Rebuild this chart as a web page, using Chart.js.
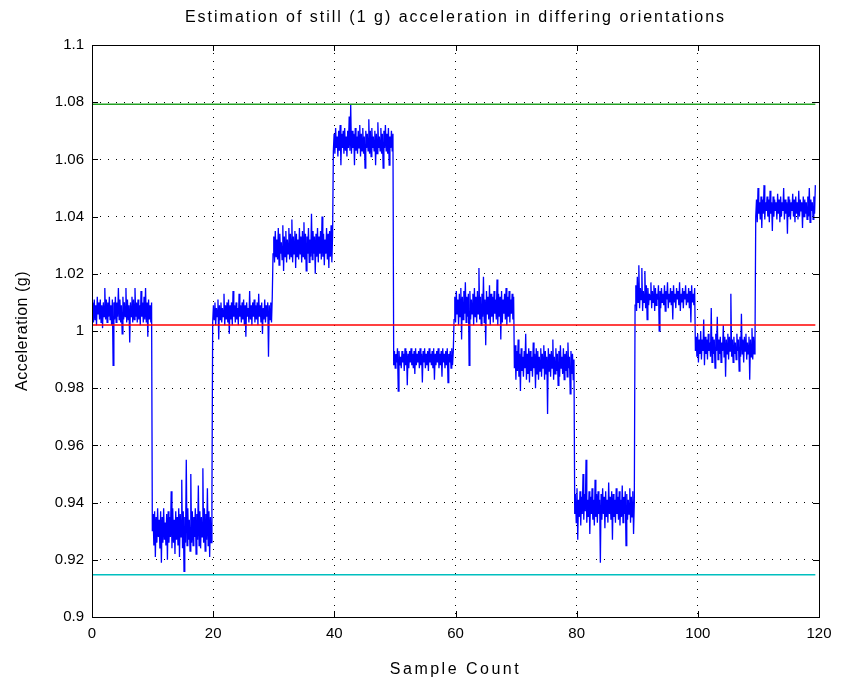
<!DOCTYPE html>
<html><head><meta charset="utf-8">
<script src="https://cdn.jsdelivr.net/npm/chart.js@4/dist/chart.umd.min.js"></script>
<style>html,body{margin:0;padding:0;background:#fff}#wrap{width:841px;height:689px}</style>
</head><body><div id="wrap"><canvas id="c" width="841" height="689"></canvas></div>
<script>
const sampleStep = 0.1245;
const xTickValues = [0, 20, 40, 60, 80, 100, 120];
const yTickValues = [0.9, 0.92, 0.94, 0.96, 0.98, 1, 1.02, 1.04, 1.06, 1.08, 1.1];
const yTickLabels = ['0.9','0.92','0.94','0.96','0.98','1','1.02','1.04','1.06','1.08','1.1'];
const upperBound = 1.0793;
const meanLevel = 1.0021;
const lowerBound = 0.9148;

const seg1 = [1.005,1.010,1.003,1.011,1.004,1.009,1.002,1.012,1.006,1.010,1.004,1.011,1.003,1.009,1.001,1.010,1.005,1.015,1.004,1.011,1.003,1.010,1.005,1.012,1.004,1.009,1.002,1.011,0.988,1.010,1.004,1.012,1.003,1.010,1.005,1.015,1.004,1.011,1.003,1.009,0.999,1.012,1.004,1.010,1.005,1.015,1.003,1.011,1.004,1.009,0.996,1.010,1.005,1.012,1.003,1.011,1.004,1.015,1.005,1.010,1.003,1.011,1.004,1.009,1.002,1.014,1.005,1.010,1.003,1.012,1.004,1.015,1.003,1.010,0.998,1.011,1.004,1.009,1.003,1.010];
const seg2 = [0.930,0.936,0.925,0.937,0.921,0.935,0.926,0.938,0.928,0.934,0.924,0.937,0.919,0.935,0.926,0.938,0.927,0.933,0.925,0.936,0.920,0.937,0.926,0.935,0.928,0.944,0.924,0.938,0.926,0.934,0.922,0.937,0.927,0.935,0.925,0.938,0.921,0.936,0.928,0.948,0.924,0.937,0.916,0.935,0.926,0.955,0.925,0.938,0.927,0.934,0.923,0.950,0.926,0.937,0.925,0.935,0.928,0.938,0.922,0.936,0.927,0.946,0.925,0.937,0.924,0.935,0.928,0.952,0.926,0.938,0.923,0.936,0.927,0.945,0.925,0.937,0.921,0.935,0.926,0.941];
const seg3 = [1.003,1.009,1.004,1.010,1.002,1.008,1.005,1.011,0.997,1.009,1.004,1.010,1.003,1.008,1.005,1.013,1.002,1.009,1.004,1.010,1.003,1.011,0.999,1.009,1.004,1.010,1.002,1.014,1.005,1.009,1.003,1.010,1.004,1.008,1.002,1.013,1.005,1.009,1.003,1.010,1.004,1.011,1.002,1.009,0.998,1.010,1.005,1.008,1.003,1.014,1.004,1.009,1.002,1.010,1.005,1.011,1.003,1.009,1.004,1.010,1.002,1.013,1.005,1.009,1.003,1.010,0.999,1.008,1.004,1.011,1.003,1.009,1.005,1.010,0.991,1.009,1.004,1.010,1.003,1.012];
const seg4 = [1.027,1.033,1.024,1.035,1.026,1.032,1.025,1.036,1.023,1.034,1.027,1.031,1.025,1.037,1.021,1.033,1.026,1.035,1.024,1.032,1.027,1.036,1.025,1.034,1.026,1.039,1.024,1.033,1.027,1.035,1.022,1.034,1.026,1.032,1.025,1.036,1.027,1.033,1.024,1.035,1.026,1.038,1.025,1.034,1.021,1.033,1.027,1.036,1.024,1.032,1.026,1.041,1.025,1.035,1.027,1.033,1.020,1.034,1.026,1.036,1.024,1.033,1.027,1.035,1.025,1.040,1.026,1.034,1.023,1.032,1.027,1.036,1.025,1.034,1.022,1.035,1.026,1.037,1.024,1.034];
const seg5 = [1.063,1.069,1.062,1.071,1.064,1.068,1.061,1.070,1.063,1.072,1.058,1.069,1.064,1.070,1.062,1.071,1.063,1.068,1.061,1.070,1.064,1.075,1.063,1.079,1.062,1.070,1.064,1.069,1.058,1.071,1.063,1.068,1.062,1.070,1.064,1.072,1.061,1.069,1.063,1.071,1.062,1.068,1.057,1.070,1.064,1.069,1.063,1.074,1.062,1.070,1.061,1.071,1.064,1.068,1.063,1.070,1.058,1.069,1.062,1.073,1.064,1.068,1.063,1.071,1.062,1.069,1.057,1.070,1.064,1.072,1.063,1.069,1.062,1.071,1.058,1.068,1.064,1.070,1.063,1.069];
const seg6 = [0.988,0.993,0.987,0.992,0.989,0.994,0.979,0.993,0.988,0.991,0.987,0.993,0.989,0.992,0.986,0.994,0.988,0.993,0.981,0.992,0.987,0.993,0.989,0.994,0.988,0.992,0.987,0.993,0.985,0.994,0.988,0.992,0.989,0.993,0.987,0.994,0.988,0.992,0.982,0.993,0.989,0.994,0.987,0.992,0.988,0.993,0.986,0.994,0.989,0.992,0.988,0.993,0.987,0.994,0.983,0.992,0.988,0.993,0.989,0.994,0.987,0.992,0.988,0.993,0.984,0.994,0.989,0.992,0.987,0.993,0.988,0.994,0.982,0.992,0.989,0.993,0.987,0.994,0.988,0.993];
const seg7 = [1.004,1.012,1.003,1.014,1.006,1.011,1.002,1.013,1.005,1.015,0.997,1.012,1.004,1.014,1.006,1.017,1.003,1.012,1.005,1.013,0.988,1.014,1.004,1.011,1.006,1.013,1.002,1.015,1.005,1.012,1.003,1.014,1.006,1.022,1.004,1.012,1.002,1.013,1.005,1.019,1.003,1.011,0.995,1.014,1.006,1.012,1.004,1.016,1.002,1.013,1.005,1.012,1.003,1.014,1.006,1.011,1.004,1.018,1.002,1.013,1.005,1.012,0.997,1.014,1.003,1.011,1.006,1.013,1.004,1.015,1.002,1.012,1.005,1.014,1.003,1.011,1.006,1.013,1.004,1.012];
const seg8 = [0.987,0.995,0.983,0.993,0.986,0.997,0.984,0.992,0.979,0.994,0.986,0.991,0.984,0.993,0.987,0.999,0.983,0.992,0.985,0.994,0.982,0.993,0.986,0.991,0.984,0.996,0.987,0.992,0.980,0.994,0.985,0.993,0.983,0.991,0.986,0.994,0.984,0.992,0.987,0.995,0.983,0.993,0.985,0.991,0.971,0.994,0.986,0.992,0.984,0.993,0.987,0.997,0.983,0.991,0.985,0.994,0.986,0.992,0.981,0.993,0.984,0.995,0.987,0.991,0.985,0.994,0.983,0.992,0.986,0.993,0.984,0.996,0.987,0.991,0.978,0.993,0.985,0.992,0.983,0.990];
const seg9 = [0.936,0.943,0.933,0.945,0.927,0.941,0.935,0.944,0.932,0.942,0.936,0.950,0.934,0.943,0.937,0.955,0.933,0.941,0.935,0.944,0.929,0.942,0.936,0.945,0.934,0.941,0.932,0.948,0.935,0.943,0.933,0.944,0.936,0.941,0.919,0.943,0.934,0.945,0.936,0.942,0.931,0.944,0.935,0.941,0.933,0.947,0.936,0.942,0.934,0.944,0.927,0.943,0.935,0.941,0.933,0.945,0.936,0.942,0.934,0.944,0.932,0.941,0.935,0.946,0.933,0.942,0.936,0.944,0.925,0.943,0.934,0.941,0.936,0.945,0.933,0.942,0.935,0.944,0.929,0.940];
const seg10 = [1.009,1.016,1.007,1.019,1.010,1.023,1.008,1.015,1.011,1.022,1.007,1.014,1.010,1.021,1.008,1.016,1.004,1.015,1.009,1.013,1.011,1.017,1.008,1.014,1.010,1.016,1.007,1.015,1.009,1.013,1.011,1.016,1.000,1.014,1.008,1.015,1.010,1.013,1.009,1.016,1.007,1.014,1.011,1.017,1.008,1.013,1.010,1.015,1.009,1.014,1.004,1.016,1.010,1.013,1.008,1.015,1.011,1.014,1.009,1.017,1.007,1.013,1.010,1.015,1.008,1.014,1.011,1.016,1.009,1.013,1.010,1.015,1.008,1.014,1.003,1.016,1.010,1.013,1.009,1.015];
const seg11 = [0.993,0.998,0.991,0.999,0.989,0.997,0.992,1.000,0.990,0.997,0.993,1.004,0.988,0.998,0.992,0.997,0.990,0.999,0.993,0.996,0.991,1.008,0.989,0.998,0.992,0.997,0.987,0.999,0.993,1.005,0.990,0.997,0.992,0.998,0.989,0.996,0.993,1.002,0.991,0.998,0.984,0.997,0.992,0.999,0.990,0.998,0.993,1.013,0.991,0.997,0.989,0.998,0.992,0.996,0.990,0.999,0.993,0.997,0.986,0.998,0.991,1.006,0.992,0.997,0.989,0.998,0.993,0.999,0.990,0.996,0.992,0.998,0.983,0.997,0.991,1.001,0.990,0.998,0.992,0.996];
const seg12 = [1.040,1.046,1.038,1.050,1.041,1.045,1.039,1.047,1.036,1.046,1.041,1.051,1.039,1.045,1.042,1.047,1.040,1.046,1.038,1.049,1.041,1.045,1.035,1.047,1.040,1.046,1.042,1.045,1.039,1.048,1.041,1.046,1.038,1.047,1.040,1.045,1.042,1.050,1.039,1.046,1.041,1.045,1.034,1.047,1.040,1.046,1.039,1.045,1.042,1.048,1.040,1.046,1.038,1.047,1.041,1.045,1.039,1.049,1.040,1.046,1.042,1.045,1.036,1.047,1.040,1.046,1.041,1.045,1.039,1.047,1.040,1.050,1.038,1.046,1.042,1.045,1.039,1.047,1.041,1.051];

const accel = [...seg1,...seg2,...seg3,...seg4,...seg5,...seg6,...seg7,...seg8,...seg9,...seg10,...seg11,...seg12];
const accelPoints = accel.map((v, i) => ({x: i * sampleStep, y: v}));
const lastX = (accel.length - 1) * sampleStep;
const hLine = v => [{x: 0, y: v}, {x: lastX, y: v}];

const FONT = 'Liberation Sans, Arial, Helvetica, sans-serif';

const framePlugin = {
  id: 'frame',
  afterDatasetsDraw(chart) {
    const {ctx, chartArea: a, scales: {x, y}} = chart;
    ctx.save();
    ctx.strokeStyle = '#000';
    ctx.lineWidth = 1;
    ctx.strokeRect(Math.round(a.left) + 0.5, Math.round(a.top) + 0.5, Math.round(a.right - a.left), Math.round(a.bottom - a.top));
    ctx.beginPath();
    const tl = 6;
    xTickValues.forEach(v => {
      const px = Math.round(x.getPixelForValue(v)) + 0.5;
      ctx.moveTo(px, a.bottom); ctx.lineTo(px, a.bottom - tl);
      ctx.moveTo(px, a.top); ctx.lineTo(px, a.top + tl);
    });
    yTickValues.forEach(v => {
      const py = Math.round(y.getPixelForValue(v)) + 0.5;
      ctx.moveTo(a.left, py); ctx.lineTo(a.left + tl, py);
      ctx.moveTo(a.right, py); ctx.lineTo(a.right - tl, py);
    });
    ctx.stroke();
    ctx.restore();
  }
};

const chart = new Chart(document.getElementById('c'), {
  type: 'line',
  data: {
    datasets: [
      {label: 'mean', data: hLine(meanLevel), borderColor: '#ff0000', borderWidth: 1.5},
      {label: 'upper', data: hLine(upperBound), borderColor: '#22a022', borderWidth: 1.5},
      {label: 'lower', data: hLine(lowerBound), borderColor: '#00bfbf', borderWidth: 1.5},
      {label: 'acceleration', data: accelPoints, borderColor: '#0000ff', borderWidth: 1.3}
    ]
  },
  options: {
    responsive: false,
    animation: false,
    elements: {point: {radius: 0}, line: {tension: 0}},
    layout: {padding: {left: 0, right: 22, top: 0, bottom: 0}},
    plugins: {
      legend: {display: false},
      tooltip: {enabled: false},
      title: {
        display: true,
        text: 'Estimation of still (1 g) acceleration in differing orientations',
        color: '#000',
        font: {family: FONT, size: 16, weight: 'normal', lineHeight: 1.2},
        padding: {top: 8, bottom: 17.8}
      }
    },
    scales: {
      x: {
        type: 'linear', min: 0, max: 120,
        afterBuildTicks: s => { s.ticks = xTickValues.map(v => ({value: v})); },
        afterFit: s => { s.height = 72; },
        grid: {color: '#000', lineWidth: 1, drawTicks: false},
        border: {display: false, dash: [1, 7]},
        ticks: {color: '#000', padding: 8, font: {family: FONT, size: 15}, maxRotation: 0, callback: v => String(v)},
        title: {display: true, text: 'Sample Count', color: '#000', font: {family: FONT, size: 16}, padding: {top: 10, bottom: 10}}
      },
      y: {
        type: 'linear', min: 0.9, max: 1.1,
        afterBuildTicks: s => { s.ticks = yTickValues.map(v => ({value: v})); },
        afterFit: s => { s.width = 92; },
        grid: {color: '#000', lineWidth: 1, drawTicks: false},
        border: {display: false, dash: [1, 7]},
        ticks: {color: '#000', padding: 8, font: {family: FONT, size: 15},
          callback: (v) => { const i = yTickValues.findIndex(t => Math.abs(t - v) < 1e-9); return i >= 0 ? yTickLabels[i] : ''; }},
        title: {display: true, text: 'Acceleration (g)', color: '#000', font: {family: FONT, size: 16}, padding: {top: 13, bottom: 13}}
      }
    }
  },
  plugins: [framePlugin]
});

function spaced(obj, method, spacing, dx) {
  if (!obj || typeof obj[method] !== 'function') return;
  const orig = obj[method].bind(obj);
  obj[method] = function (...args) {
    const ctx = chart.ctx;
    ctx.save();
    ctx.letterSpacing = spacing;
    if (dx) ctx.translate(dx, 0);
    orig(...args);
    ctx.restore();
  };
}
// centre the title over the axes box as in the original figure
const titleShift = (chart.chartArea.left + chart.chartArea.right) / 2 - chart.width / 2 + 11;
spaced(chart.titleBlock, 'draw', '2px', titleShift);
spaced(chart.scales.x, 'drawTitle', '2.5px', 0);
spaced(chart.scales.y, 'drawTitle', '0.5px', 0);
chart.draw();
</script></body></html>
